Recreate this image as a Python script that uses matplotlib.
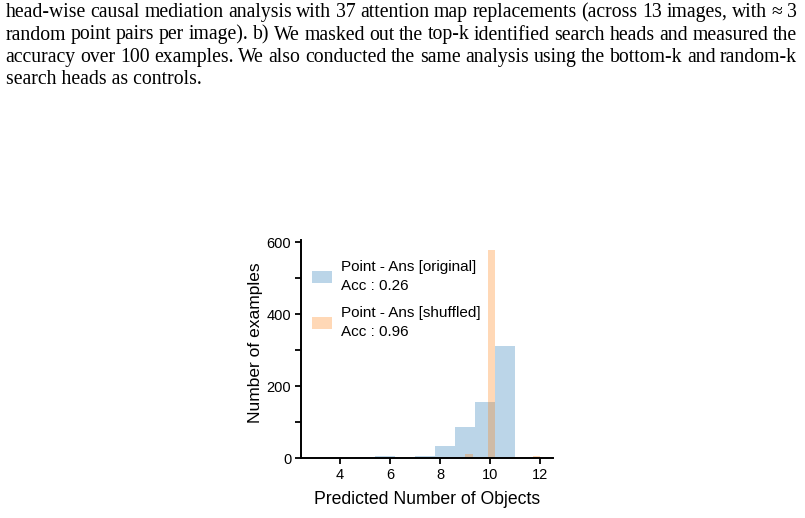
import numpy as np
import matplotlib
matplotlib.use("Agg")
import matplotlib.pyplot as plt

plt.rcParams['font.family'] = ['Liberation Sans', 'DejaVu Sans']

# predicted number of objects -> number of examples
orig_pred = [3, 4, 5, 6, 7, 8, 9, 10, 11]
orig_count = [1, 0, 3, 6, 6, 32, 86, 155, 311]
shuf_pred = [3, 9, 10, 11, 12]
shuf_count = [1, 10, 577, 3, 6]

orig_label = "Point - Ans [original]\nAcc : 0.26"
shuf_label = "Point - Ans [shuffled]\nAcc : 0.96"

caption = [
    "head-wise causal mediation analysis with 37 attention map replacements (across 13 images, with \u2248 3",
    "random point pairs per image). b) We masked out the top-k identified search heads and measured the",
    "accuracy over 100 examples. We also conducted the same analysis using the bottom-k and random-k",
    "search heads as controls.",
]

W, H = 805, 518
fig = plt.figure(figsize=(W / 100, H / 100), dpi=100)

# caption text, justified like the paper
renderer = fig.canvas.get_renderer()
x0, x1 = 5.5, 797.0
baselines = [17.3, 39.5, 61.7, 83.5]
cap_font = dict(family=['Liberation Serif', 'DejaVu Serif'], fontsize=14.2, color='black')
for k, line in enumerate(caption):
    y = 1 - baselines[k] / H
    words = line.split(' ')
    if k == len(caption) - 1:
        fig.text(x0 / W, y, line, va='baseline', ha='left', **cap_font)
        continue
    texts = [fig.text(0, y, w, va='baseline', ha='left', **cap_font) for w in words]
    widths = [t.get_window_extent(renderer).width for t in texts]
    gap = (x1 - x0 - sum(widths)) / (len(words) - 1)
    x = x0
    for t, w in zip(texts, widths):
        t.set_x(x / W)
        x += w + gap

ax = fig.add_axes([301 / W, 1 - 458 / H, 252 / W, 218 / H])
ax.hist(orig_pred, bins=10, range=(3, 11), weights=orig_count,
        color='tab:blue', alpha=0.3, label=orig_label)
ax.hist(shuf_pred, bins=30, range=(3, 12), weights=shuf_count,
        color='tab:orange', alpha=0.3, label=shuf_label)

ax.set_xlim(2.45, 12.5)
ax.set_xticks([4, 6, 8, 10, 12])
ax.set_yticks([0, 200, 400, 600])
ax.set_yticks([100, 300, 500], minor=True)
ax.spines['top'].set_visible(False)
ax.spines['right'].set_visible(False)
for s in ['left', 'bottom']:
    ax.spines[s].set_linewidth(1.4)
ax.tick_params(which='both', length=4, width=1.3, labelsize=10.5, pad=3)

ax.set_xlabel("Predicted Number of Objects", fontsize=12.7, labelpad=7)
ax.set_ylabel("Number of examples", fontsize=12.5)
ax.yaxis.set_label_coords(-0.15, 0.53)

leg = ax.legend(loc='upper left', bbox_to_anchor=(-0.01, 0.97), frameon=False,
                fontsize=11, handlelength=1.3, handleheight=0.85,
                handletextpad=0.6, labelspacing=0.9)
for t in leg.get_texts():
    t.set_linespacing(1.4)

fig.savefig("out.png", dpi=100)
